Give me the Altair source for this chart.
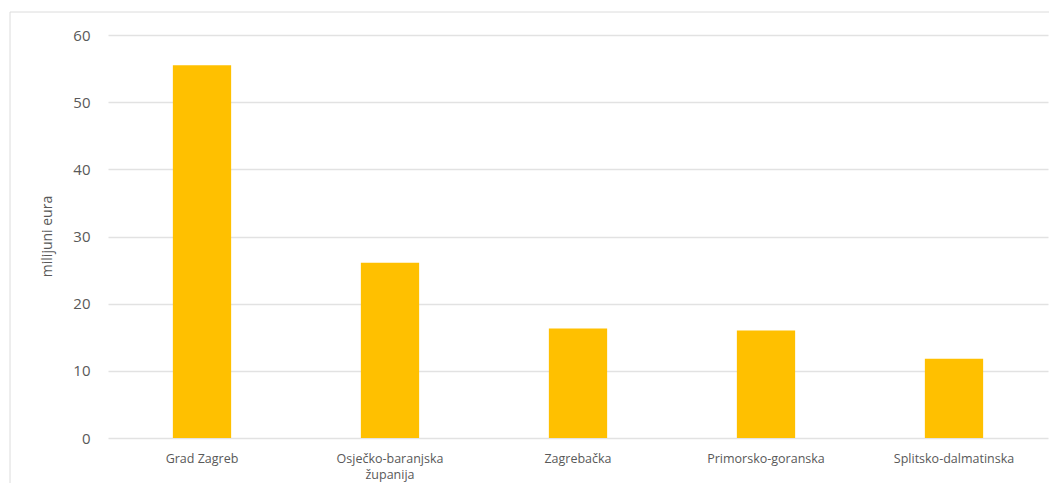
import altair as alt
import pandas as pd

categories = ["Grad Zagreb", "Osječko-baranjska županija", "Zagrebačka",
              "Primorsko-goranska", "Splitsko-dalmatinska"]
values = [55.5, 26.1, 16.3, 16.0, 11.8]
y_ticks = [0, 10, 20, 30, 40, 50, 60]

df = pd.DataFrame({"kategorija": categories, "vrijednost": values})

FONT = "Open Sans"
GRAY = "#595959"

bars = alt.Chart(df).mark_bar(color="#FFC000").encode(
    x=alt.X(
        "kategorija:N",
        sort=categories,
        title=None,
        scale=alt.Scale(paddingInner=0.69, paddingOuter=0.345),
        axis=alt.Axis(
            labelAngle=0,
            labelFont=FONT,
            labelFontSize=12.5,
            labelColor=GRAY,
            labelPadding=14,
            labelLineHeight=16,
            ticks=False,
            domain=False,
            grid=False,
            labelExpr="datum.label == 'Osječko-baranjska županija' ? ['Osječko-baranjska', 'županija'] : datum.label",
        ),
    ),
    y=alt.Y(
        "vrijednost:Q",
        title="milijuni eura",
        scale=alt.Scale(domain=[0, 60], nice=False),
        axis=alt.Axis(
            values=y_ticks,
            labelFont=FONT,
            labelFontSize=15,
            labelColor=GRAY,
            labelPadding=18,
            ticks=False,
            domain=False,
            grid=True,
            gridColor="#e2e2e2",
            gridWidth=1.3,
            titleFont=FONT,
            titleFontSize=14,
            titleFontWeight="normal",
            titleColor=GRAY,
            titleAngle=-90,
            titleX=-61,
            titleY=201,
            titleAlign="center",
            titleBaseline="middle",
        ),
    ),
)

frame_data = pd.DataFrame({"f": [0]})
frame_top = alt.Chart(frame_data).mark_rule(color="#dcdcdc", strokeWidth=1).encode(
    x=alt.value(-98), x2=alt.value(960), y=alt.value(-23)
)
frame_left = alt.Chart(frame_data).mark_rule(color="#dcdcdc", strokeWidth=1).encode(
    x=alt.value(-98), y=alt.value(-23), y2=alt.value(470)
)

chart = alt.layer(frame_top, frame_left, bars).properties(
    width=940,
    height=403,
    autosize=alt.AutoSizeParams(type="none"),
    padding={"left": 100, "top": 27, "right": 1, "bottom": 45},
    background="white",
).configure_view(stroke=None)

chart.save("out.html", embed_options={"renderer": "svg", "actions": False})
